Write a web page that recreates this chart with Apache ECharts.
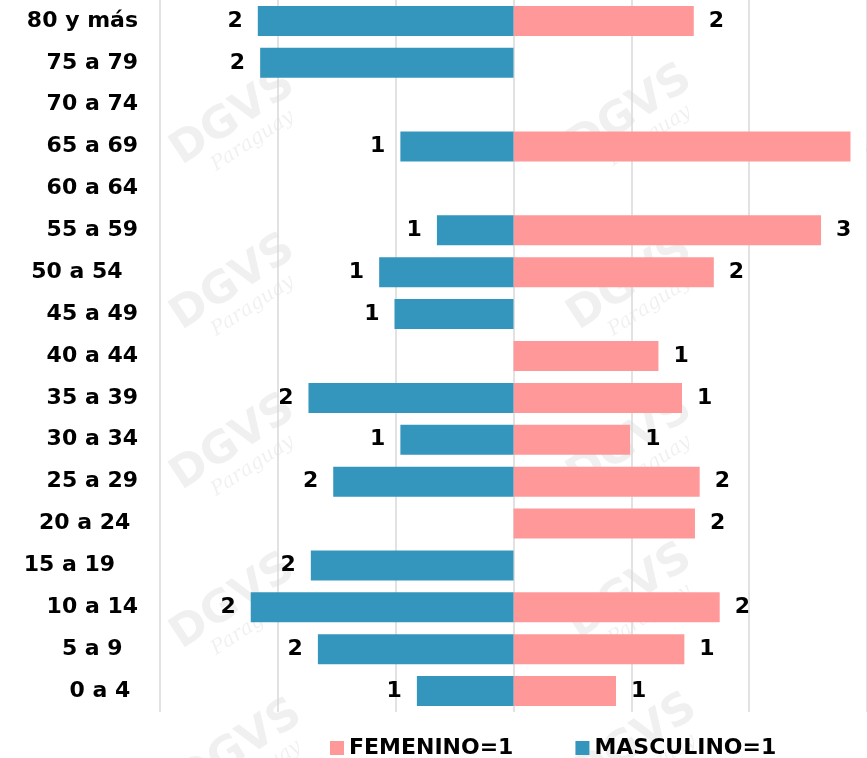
<!DOCTYPE html>
<html>
<head>
<meta charset="utf-8">
<script src="https://cdn.jsdelivr.net/npm/echarts@6/dist/echarts.min.js"></script>
<style>
  html, body { margin: 0; padding: 0; background: #fff; }
  #main { width: 867px; height: 758px; }
</style>
</head>
<body>
<div id="main"></div>
<script>
// grupos de edad (de arriba hacia abajo)
var grupos = ['80 y más', '75 a 79', '70 a 74', '65 a 69', '60 a 64', '55 a 59',
              '50 a 54  ', '45 a 49', '40 a 44', '35 a 39', '30 a 34', '25 a 29',
              '20 a 24 ', '15 a 19   ', '10 a 14', '5 a 9  ', '0 a 4 '];
// porcentajes (masculino se dibuja a la izquierda)
var femenino  = [1.53, null, null, 2.86, null, 2.61, 1.70, null, 1.23, 1.43, 0.99, 1.58, 1.54, null, 1.75, 1.45, 0.87];
var masculino = [2.17, 2.15, null, 0.96, null, 0.65, 1.14, 1.01, null, 1.74, 0.96, 1.53, null, 1.72, 2.23, 1.66, 0.82];
var ticksX = [-3, 3, 1];

var fuente = '"DejaVu Sans"';
var azul = '#3596bd';
var rosa = '#ff9999';

// marca de agua
var marcas = [];
[[233, 118], [233, 283], [233, 443], [233, 602], [240, 748],
 [630, 113], [630, 283], [630, 443], [630, 592], [635, 742]].forEach(function (p) {
    marcas.push({
        type: 'group', x: p[0], y: p[1], rotation: 0.58, z: -10, silent: true,
        children: [
            { type: 'text', x: 0, y: 0,
              style: { text: 'DGVS', font: 'bold 44px ' + fuente, fill: 'rgba(0,0,0,0.06)', align: 'center', verticalAlign: 'middle' } },
            { type: 'text', x: 4, y: 30,
              style: { text: 'Paraguay', font: 'italic 20px "DejaVu Serif"', fill: 'rgba(0,0,0,0.06)', align: 'center', verticalAlign: 'middle' } }
        ]
    });
});

var chart = echarts.init(document.getElementById('main'));
chart.setOption({
    animation: false,
    backgroundColor: '#fff',
    graphic: marcas,
    grid: { left: 160, right: 0, top: 0, height: 712, containLabel: false },
    legend: {
        left: 330, top: 737, padding: 0,
        itemWidth: 14, itemHeight: 14, itemGap: 62,
        icon: 'rect',
        data: ['FEMENINO=1', 'MASCULINO=1'],
        textStyle: { fontFamily: fuente, fontWeight: 'bold', fontSize: 22, color: '#000' }
    },
    xAxis: {
        type: 'value',
        min: ticksX[0], max: ticksX[1], interval: ticksX[2],
        axisLine: { show: false },
        axisTick: { show: false },
        axisLabel: { show: false },
        splitLine: { show: true, lineStyle: { color: '#d9d9d9', width: 1.5 } }
    },
    yAxis: {
        type: 'category',
        inverse: true,
        data: grupos,
        axisLine: { show: false },
        axisTick: { show: false },
        axisLabel: {
            margin: 22,
            fontFamily: fuente, fontWeight: 'bold', fontSize: 22, color: '#000'
        }
    },
    series: [
        {
            name: 'FEMENINO=1',
            type: 'bar',
            barWidth: 30,
            barGap: '-100%',
            data: femenino,
            itemStyle: { color: rosa },
            label: {
                show: true, position: 'right', distance: 15,
                fontFamily: fuente, fontWeight: 'bold', fontSize: 22, color: '#000',
                formatter: function (p) { return Math.abs(p.value).toFixed(0); }
            }
        },
        {
            name: 'MASCULINO=1',
            type: 'bar',
            barWidth: 30,
            barGap: '-100%',
            data: masculino.map(function (v) { return v == null ? null : -v; }),
            itemStyle: { color: azul },
            label: {
                show: true, position: 'left', distance: 15,
                fontFamily: fuente, fontWeight: 'bold', fontSize: 22, color: '#000',
                formatter: function (p) { return Math.abs(p.value).toFixed(0); }
            }
        }
    ]
});
</script>
</body>
</html>
